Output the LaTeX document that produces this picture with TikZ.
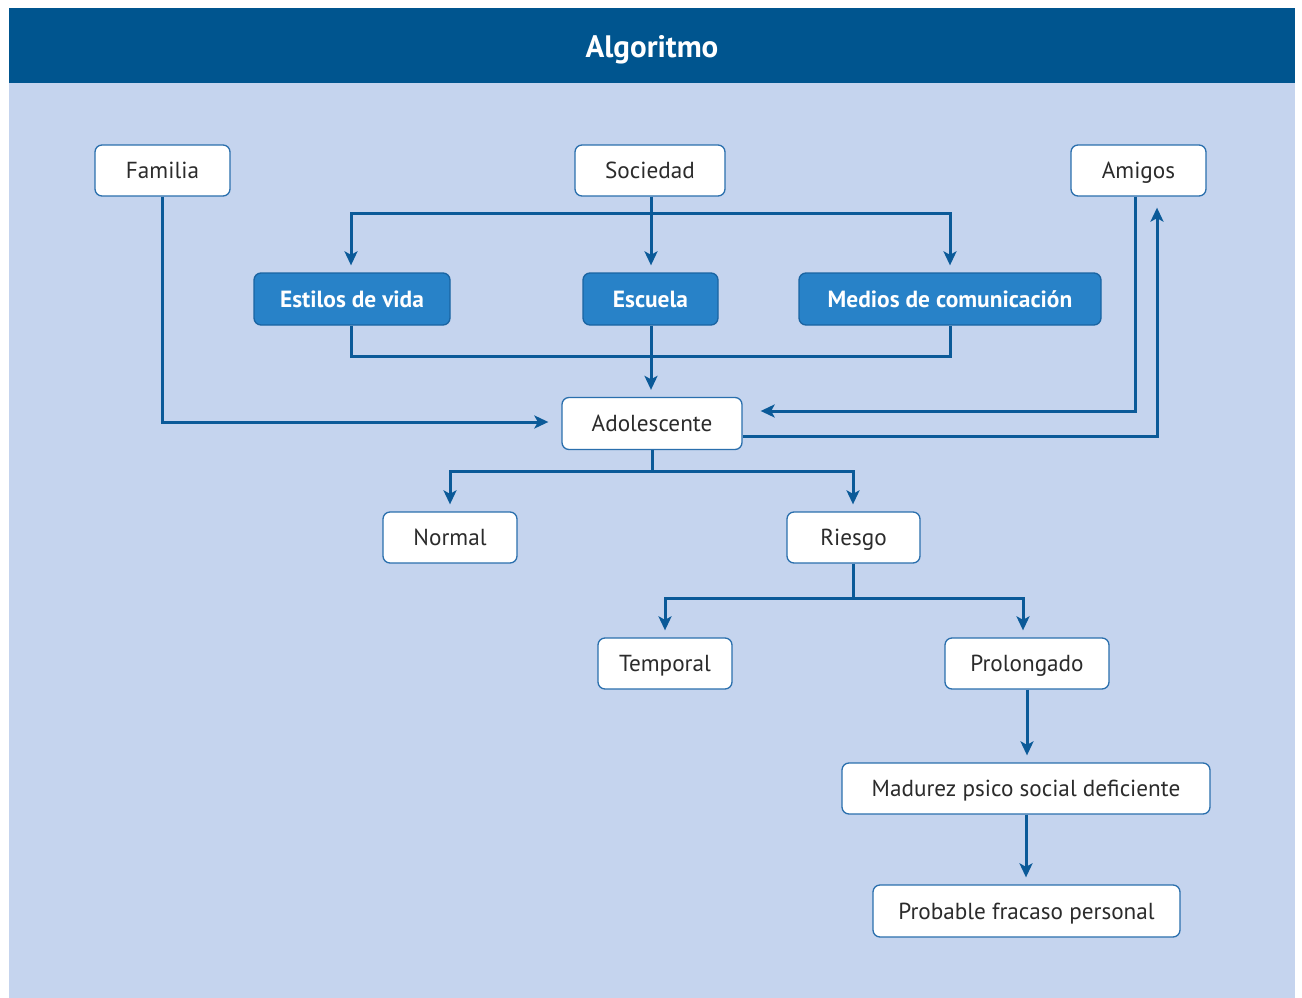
\documentclass[tikz,border=0pt]{standalone}
\usepackage{fontspec}
\setmainfont{PT Sans}
\usetikzlibrary{arrows.meta}
\definecolor{headblue}{HTML}{00558F}
\definecolor{paneblue}{HTML}{C5D4EE}
\definecolor{wireblue}{HTML}{0B5A98}
\definecolor{edgeblue}{HTML}{2A6FAD}
\definecolor{boxblue}{HTML}{2882C8}
\definecolor{boxedge}{HTML}{1A64A2}
\definecolor{inkgray}{HTML}{2B2B2B}
\tikzset{
  whitebox/.style={draw=edgeblue, line width=1.3pt, fill=white, rounded corners=7pt,
    text=inkgray, font=\fontsize{23.2}{26}\selectfont, inner sep=0pt, anchor=center,
    text height=16pt, text depth=0pt},
  bluebox/.style={draw=boxedge, line width=1.3pt, fill=boxblue, rounded corners=7pt,
    text=white, font=\fontsize{23.4}{26}\selectfont\bfseries, inner sep=0pt, anchor=center,
    text height=16pt, text depth=0pt},
  wire/.style={draw=wireblue, line width=3pt},
  arrowwire/.style={wire, -{Stealth[length=14pt,width=13pt,inset=3.5pt]}, shorten >=7pt},
}
\begin{document}
\begin{tikzpicture}[x=1pt,y=-1pt]
  \useasboundingbox (0,0) rectangle (1302,998);
  \fill[white] (0,0) rectangle (1302,998);
  % header band and panel
  \fill[paneblue] (9,83) rectangle (1295,998);
  \fill[headblue] (9,8) rectangle (1295,83);
  \node[text=white, font=\fontsize{31}{34}\selectfont\bfseries, inner sep=0pt,
    text height=22pt, text depth=0pt] (title) at (652,47) {Algoritmo};

  % top row
  \node[whitebox, minimum width=135pt, minimum height=51pt] (fam) at (162.5,170.5) {Familia};
  \node[whitebox, minimum width=150pt, minimum height=51pt] (soc) at (650,170.5) {Sociedad};
  \node[whitebox, minimum width=135pt, minimum height=51pt] (ami) at (1138.5,170.5) {Amigos};

  % influences
  \node[bluebox, minimum width=196pt, minimum height=52pt] (est) at (352,299) {Estilos de vida};
  \node[bluebox, minimum width=135pt, minimum height=52pt] (esc) at (650.5,299) {Escuela};
  \node[bluebox, minimum width=302pt, minimum height=52pt] (med) at (950,299) {Medios de comunicación};

  % centre
  \node[whitebox, minimum width=180pt, minimum height=52pt] (ado) at (652,423.5) {Adolescente};

  \node[whitebox, minimum width=134pt, minimum height=51pt] (nor) at (450,537.5) {Normal};
  \node[whitebox, minimum width=133pt, minimum height=51pt] (rie) at (853.5,537.5) {Riesgo};

  \node[whitebox, minimum width=134pt, minimum height=51pt] (tem) at (665,663.5) {Temporal};
  \node[whitebox, minimum width=164pt, minimum height=51pt] (pro) at (1027,663.5) {Prolongado};

  \node[whitebox, minimum width=368pt, minimum height=51pt] (mad) at (1026,788.5) {Madurez psico social deficiente};
  \node[whitebox, minimum width=307pt, minimum height=52pt] (fra) at (1026.5,911) {Probable fracaso personal};

  % bus points
  \coordinate (sbus) at (651,213);
  \coordinate (ibus) at (651,356);
  \coordinate (abus) at (652,471);
  \coordinate (rbus) at (853,598);

  % Sociedad -> three influences
  \draw[wire] (soc.south -| sbus) -- (sbus);
  \draw[arrowwire] (sbus) -| (est.north -| 351,0);
  \draw[arrowwire] (sbus) -- (esc.north -| sbus);
  \draw[arrowwire] (sbus) -| (med.north);

  % influences -> Adolescente
  \draw[wire] (est.south -| 351,0) |- (ibus) -| (med.south);
  \draw[arrowwire] (esc.south -| ibus) -- (ado.north -| ibus);

  % Familia -> Adolescente
  \draw[arrowwire, shorten >=13pt] (fam.south) |- (ado.west |- 0,422);

  % Amigos <-> Adolescente
  \draw[arrowwire, shorten >=18pt] (ami.south -| 1135,0) |- (ado.east |- 0,411);
  \draw[arrowwire, shorten >=11pt] (ado.east |- 0,436) -| (ami.south -| 1157,0);

  % Adolescente -> Normal / Riesgo
  \draw[wire] (ado.south) -- (abus);
  \draw[arrowwire] (abus) -| (nor.north);
  \draw[arrowwire] (abus) -| (rie.north -| 853,0);

  % Riesgo -> Temporal / Prolongado
  \draw[wire] (rie.south -| rbus) -- (rbus);
  \draw[arrowwire] (rbus) -| (tem.north);
  \draw[arrowwire] (rbus) -| (pro.north -| 1023,0);

  % chain
  \draw[arrowwire] (pro.south) -- (mad.north -| pro.south);
  \draw[arrowwire] (mad.south) -- (fra.north -| mad.south);
\end{tikzpicture}
\end{document}
